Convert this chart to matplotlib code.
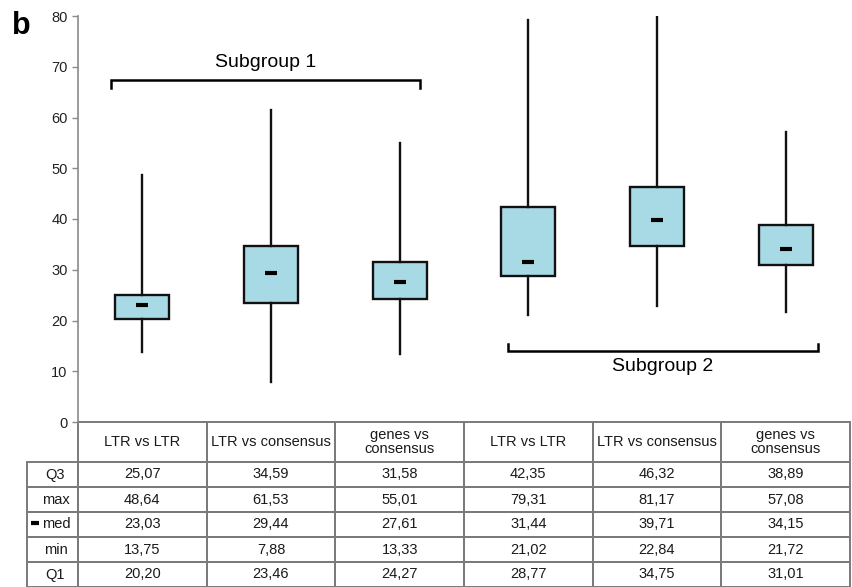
"""
Box plot of identity values for two subgroups, with the summary table below.
"""

import matplotlib.pyplot as plt
from matplotlib.patches import Rectangle

plt.rcParams['font.family'] = ['Liberation Sans', 'DejaVu Sans']

# categories and summary values
categories = ['LTR vs LTR', 'LTR vs consensus', 'genes vs\nconsensus',
              'LTR vs LTR', 'LTR vs consensus', 'genes vs\nconsensus']
q3_vals = [25.07, 34.59, 31.58, 42.35, 46.32, 38.89]
max_vals = [48.64, 61.53, 55.01, 79.31, 81.17, 57.08]
med_vals = [23.03, 29.44, 27.61, 31.44, 39.71, 34.15]
min_vals = [13.75, 7.88, 13.33, 21.02, 22.84, 21.72]
q1_vals = [20.20, 23.46, 24.27, 28.77, 34.75, 31.01]
row_labels = ['Q3', 'max', 'med', 'min', 'Q1']

W, H = 853, 587
fig = plt.figure(figsize=(W / 100, H / 100), dpi=100)

# pixel-coordinate overlay for the table
tax = fig.add_axes([0, 0, 1, 1])
tax.set_xlim(0, W)
tax.set_ylim(H, 0)
tax.axis('off')

# plot area in pixel terms
left, right, top, bottom = 78, 850, 16, 422
ax = fig.add_axes([left / W, (H - bottom) / H, (right - left) / W, (bottom - top) / H])
ax.patch.set_alpha(0)

positions = list(range(len(categories)))
stats = []
for i in positions:
    stats.append(dict(med=med_vals[i], q1=q1_vals[i], q3=q3_vals[i],
                      whislo=min_vals[i], whishi=max_vals[i], fliers=[]))

ax.bxp(stats, positions=positions, widths=0.42, showcaps=False, showfliers=False,
       patch_artist=True,
       boxprops=dict(facecolor='#A8DAE6', edgecolor='#111111', linewidth=1.7),
       whiskerprops=dict(color='#111111', linewidth=1.7),
       medianprops=dict(visible=False))
ax.plot(positions, med_vals, ls='none', marker='_', ms=8.5, mew=3, color='black', zorder=5)

ax.set_xlim(-0.5, len(categories) - 0.5)
ax.set_ylim(0, 80)
ax.set_yticks(range(0, 81, 10))
ax.set_xticks([])
for s in ['top', 'right', 'bottom']:
    ax.spines[s].set_visible(False)
ax.spines['left'].set_color('#8a8a8a')
ax.spines['left'].set_linewidth(1.2)
ax.tick_params(axis='y', colors='#8a8a8a', length=4, width=1, labelcolor='#222222',
               labelsize=10.5)

# subgroup brackets
def bracket(x0, x1, y, tick, label, ty):
    ax.plot([x0, x0, x1, x1], [y + tick, y, y, y + tick], color='black', lw=1.8,
            clip_on=False, solid_joinstyle='miter')
    ax.text((x0 + x1) / 2, ty, label, ha='center', va='center', fontsize=14)

bracket(-0.24, 2.16, 67.3, -1.5, 'Subgroup 1', 70.9)
bracket(2.84, 5.25, 14.0, 1.4, 'Subgroup 2', 11.0)

fig.text(21 / W, 1 - 26 / H, 'b', fontsize=22, fontweight='bold', ha='center', va='center')

# summary table, drawn cell by cell in pixel coordinates
edge = '#7a7a7a'
label_x0 = 27
col_w = (right - left) / len(categories)
head_h, row_h = 40, 25
cell_font = dict(fontsize=10.5, color='#1a1a1a', ha='center', va='center')

for j, cat in enumerate(categories):
    x0 = left + j * col_w
    tax.add_patch(Rectangle((x0, bottom), col_w, head_h, fill=False, ec=edge, lw=1.4))
    tax.text(x0 + col_w / 2, bottom + head_h / 2, cat, linespacing=1.0, **cell_font)

table_rows = [q3_vals, max_vals, med_vals, min_vals, q1_vals]
for i, (lab, vals) in enumerate(zip(row_labels, table_rows)):
    y0 = bottom + head_h + i * row_h
    tax.add_patch(Rectangle((label_x0, y0), left - label_x0, row_h, fill=False, ec=edge, lw=1.4))
    if lab == 'med':
        tax.plot([31, 39], [y0 + row_h / 2 - 2, y0 + row_h / 2 - 2], color='black', lw=3,
                 solid_capstyle='butt')
        tax.text(56, y0 + row_h / 2, lab, **cell_font)
    else:
        tax.text((label_x0 + left) / 2 + 3, y0 + row_h / 2, lab, **cell_font)
    for j, v in enumerate(vals):
        x0 = left + j * col_w
        tax.add_patch(Rectangle((x0, y0), col_w, row_h, fill=False, ec=edge, lw=1.4))
        tax.text(x0 + col_w / 2, y0 + row_h / 2, f'{v:.2f}'.replace('.', ','), **cell_font)

fig.savefig('out.png', dpi=100)
